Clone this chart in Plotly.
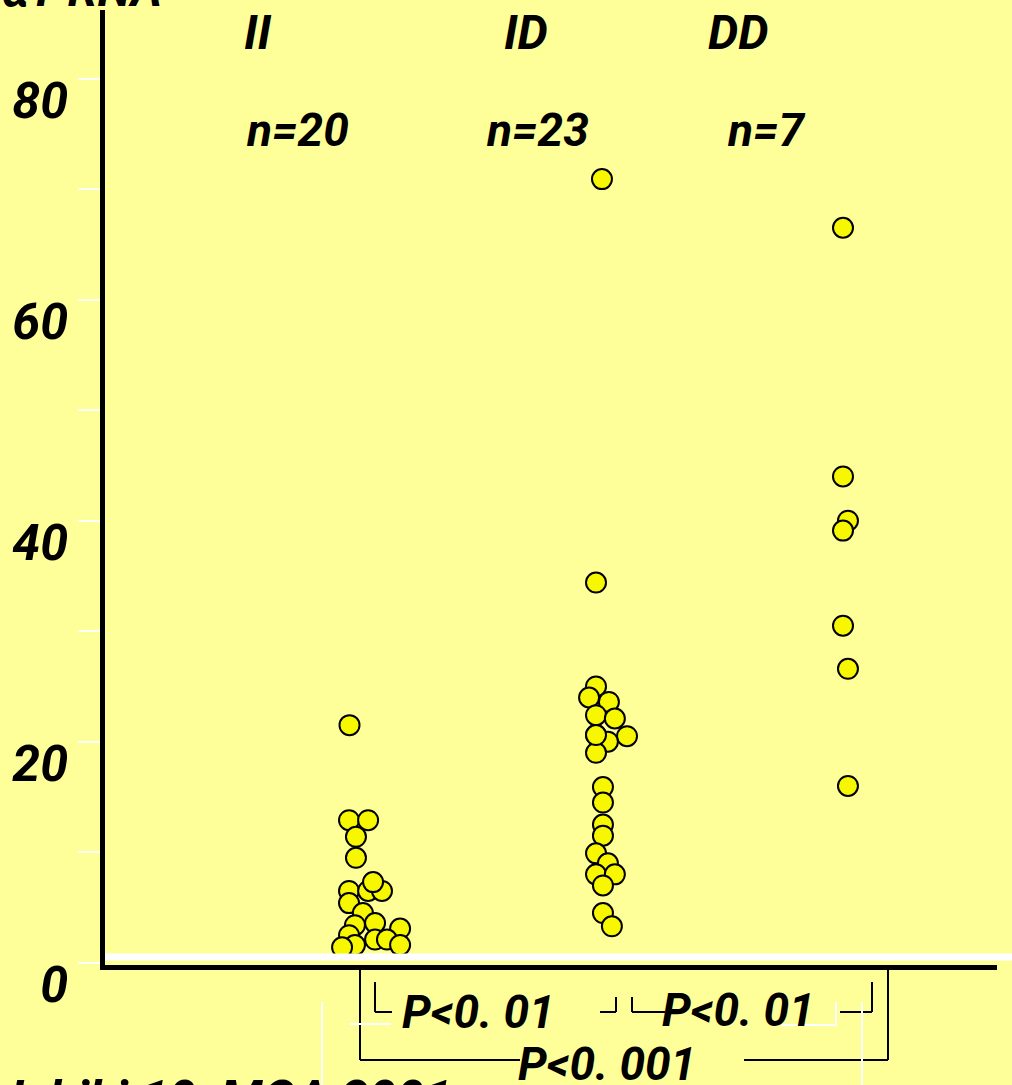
import plotly.graph_objects as go

# ---------------- data ----------------
groups = ["II", "ID", "DD"]
group_pos = [1, 2, 3]
counts = ["n=20", "n=23", "n=7"]

ii_values = [21.5, 12.9, 12.9, 11.4, 9.5, 6.5, 6.5, 6.5, 7.3, 5.4, 4.5, 3.4, 3.6, 2.5, 3.1, 2.1, 2.1, 1.6, 1.6, 1.4]
ii_jitter = [-0.01, -0.012, 0.065, 0.016, 0.016, -0.012, 0.065, 0.121, 0.085, -0.012, 0.044, 0.012, 0.093, -0.012, 0.194, 0.093, 0.141, 0.012, 0.194, -0.04]

id_values = [70.9, 34.4, 25.0, 24.0, 23.6, 22.4, 22.1, 20.6, 20.5, 20.0, 19.0, 15.9, 14.5, 12.5, 11.5, 9.9, 9.0, 8.0, 8.0, 7.0, 4.5, 3.3, 20.6]
id_jitter = [0.008, -0.016, -0.016, -0.044, 0.036, -0.016, 0.06, -0.016, 0.109, 0.032, -0.016, 0.012, 0.012, 0.012, 0.012, -0.016, 0.032, -0.016, 0.06, 0.012, 0.012, 0.048, -0.016]

dd_values = [66.5, 44.0, 40.0, 39.1, 30.5, 26.6, 16.0]
dd_jitter = [-0.02, -0.02, 0.0, -0.02, -0.02, 0.0, 0.0]

y_tick_vals = [0, 10, 20, 30, 40, 50, 60, 70, 80]
y_tick_text = ["0", "", "20", "", "40", "", "60", "", "80"]

p_labels = ["P<0. 01", "P<0. 01", "P<0. 001"]
y_title = "αT RNA"
source_text = "Ishiki 10, MGA 2001"

# ---------------- layout helpers ----------------
W, H = 1012, 1085
L, R, T, B = 105, 997, 10, 965


def px(x):
    return (x - L) / (R - L)


def py(y):
    return (B - y) / (B - T)


BG = "#FFFF99"
FONT = "Roboto, Liberation Sans, sans-serif"


def bfont(size):
    return dict(family=FONT, size=size, color="black", weight="bold", style="italic")


fig = go.Figure()

all_vals = [ii_values, id_values, dd_values]
all_jit = [ii_jitter, id_jitter, dd_jitter]
for pos, vals, jit, name in zip(group_pos, all_vals, all_jit, groups):
    fig.add_trace(go.Scatter(
        x=[pos + j for j in jit],
        y=vals,
        mode="markers",
        name=name,
        marker=dict(size=20, color="#F7F700", line=dict(color="black", width=2)),
        showlegend=False,
        hoverinfo="y",
    ))

annotations = []
# group names and counts
name_x = [0.62, 1.70, 2.56]
count_x = [0.78, 1.75, 2.67]
for g, nx, c, cx in zip(groups, name_x, counts, count_x):
    annotations.append(dict(x=nx, y=84.2, xref="x", yref="y", text=g, showarrow=False,
                            xanchor="center", yanchor="middle", font=bfont(48)))
    annotations.append(dict(x=cx, y=75.3, xref="x", yref="y", text=c, showarrow=False,
                            xanchor="center", yanchor="middle", font=bfont(46)))

for txt, (cx, cy) in zip(p_labels, [(478, 1012), (738, 1010), (607, 1064)]):
    annotations.append(dict(x=px(cx), y=py(cy), xref="paper", yref="paper", text=txt,
                            xanchor="center", yanchor="middle", showarrow=False, font=bfont(46)))
# clipped y title at the top-left
annotations.append(dict(x=px(0), y=py(20), xref="paper", yref="paper", text=y_title,
                        xanchor="left", yanchor="bottom", showarrow=False, font=bfont(48)))
# clipped source text at the bottom
annotations.append(dict(x=px(8), y=py(1068), xref="paper", yref="paper", text=source_text,
                        xanchor="left", yanchor="top", showarrow=False, font=bfont(50)))

shapes = []


def seg(x0, y0, x1, y1, color="black", width=2):
    shapes.append(dict(type="line", xref="paper", yref="paper",
                       x0=px(x0), y0=py(y0), x1=px(x1), y1=py(y1),
                       line=dict(color=color, width=width), layer="above"))


# white band over the baseline
seg(105, 957, 1020, 957, color="white", width=7)
# big bracket
seg(360, 967, 360, 1060)
seg(360, 1060, 520, 1060)
seg(744, 1060, 888, 1060)
seg(888, 967, 888, 1060)
# small brackets
seg(375, 982, 375, 1012)
seg(375, 1012, 392, 1012)
seg(600, 1012, 616, 1012)
seg(616, 1012, 616, 997)
seg(632, 997, 632, 1012)
seg(632, 1012, 665, 1012)
seg(840, 1012, 872, 1012)
seg(872, 1012, 872, 982)
# faint white artefact lines
seg(322, 1002, 322, 1090, color="white", width=2)
seg(350, 1024, 391, 1024, color="white", width=2)
seg(862, 1002, 862, 1090, color="white", width=2)
seg(782, 1025, 836, 1025, color="white", width=2)
seg(836, 1002, 836, 1025, color="white", width=2)

fig.update_layout(
    width=W, height=H,
    margin=dict(l=L, r=W - R, t=T, b=H - B, autoexpand=False),
    paper_bgcolor=BG, plot_bgcolor=BG,
    showlegend=False,
    annotations=annotations,
    shapes=shapes,
    xaxis=dict(range=[0.004, 3.601], showgrid=False, zeroline=False, showticklabels=False,
               ticks="", showline=True, linecolor="black", linewidth=5, fixedrange=True,
               automargin=False),
    yaxis=dict(range=[-0.2, 86.2], showgrid=False, zeroline=False,
               tickmode="array", tickvals=y_tick_vals, ticktext=y_tick_text,
               ticks="outside", ticklen=22, tickwidth=2, tickcolor="white",
               ticklabelshift=22, ticklabelstandoff=0,
               tickfont=bfont(50),
               showline=True, linecolor="black", linewidth=5, fixedrange=True,
               automargin=False),
)

fig.write_html("out.html", config={"displayModeBar": False},
               post_script="document.body.style.margin='0px';document.body.style.overflow='hidden';")
